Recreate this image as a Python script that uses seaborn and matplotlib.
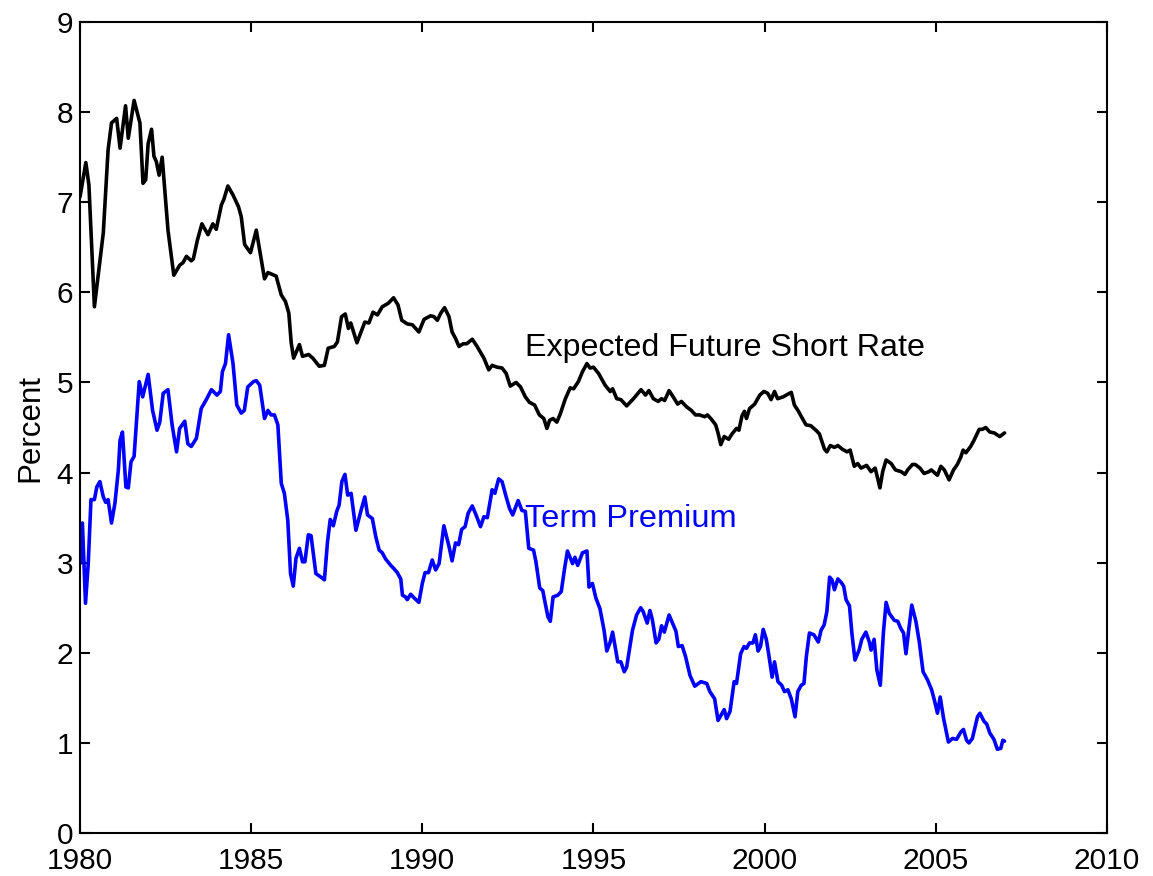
import numpy as np
import pandas as pd
import matplotlib
matplotlib.use("Agg")
from matplotlib import pyplot as plt
import seaborn as sns

# expected future short rate (year, percent)
short_years = [1980.00, 1980.17, 1980.26, 1980.42, 1980.68, 1980.82, 1980.92, 1981.07, 1981.17, 1981.33,
               1981.41, 1981.58, 1981.75, 1981.84, 1981.92, 1981.99, 1982.09, 1982.16, 1982.23, 1982.31,
               1982.40, 1982.57, 1982.74, 1982.91, 1983.01, 1983.11, 1983.25, 1983.31, 1983.43, 1983.56,
               1983.74, 1983.88, 1983.98, 1984.13, 1984.20, 1984.32, 1984.47, 1984.63, 1984.71, 1984.81,
               1984.98, 1985.15, 1985.39, 1985.49, 1985.73, 1985.88, 1986.00, 1986.10, 1986.17, 1986.24,
               1986.41, 1986.50, 1986.68, 1986.80, 1986.99, 1987.14, 1987.25, 1987.43, 1987.52, 1987.64,
               1987.75, 1987.84, 1987.91, 1988.09, 1988.18, 1988.32, 1988.44, 1988.56, 1988.69, 1988.83,
               1989.01, 1989.16, 1989.29, 1989.40, 1989.56, 1989.71, 1989.90, 1990.05, 1990.24, 1990.34,
               1990.44, 1990.54, 1990.65, 1990.78, 1990.87, 1990.97, 1991.07, 1991.20, 1991.30, 1991.46,
               1991.60, 1991.80, 1991.94, 1992.04, 1992.18, 1992.33, 1992.45, 1992.57, 1992.74, 1992.87,
               1993.01, 1993.13, 1993.28, 1993.42, 1993.55, 1993.64, 1993.72, 1993.82, 1993.93, 1994.03,
               1994.18, 1994.32, 1994.42, 1994.56, 1994.68, 1994.81, 1994.90, 1995.00, 1995.15, 1995.34,
               1995.49, 1995.56, 1995.68, 1995.80, 1995.97, 1996.17, 1996.39, 1996.52, 1996.62, 1996.75,
               1996.89, 1996.99, 1997.08, 1997.21, 1997.33, 1997.46, 1997.57, 1997.72, 1997.86, 1997.98,
               1998.10, 1998.25, 1998.33, 1998.45, 1998.57, 1998.64, 1998.72, 1998.82, 1998.95, 1999.05,
               1999.18, 1999.25, 1999.34, 1999.41, 1999.47, 1999.56, 1999.71, 1999.86, 1999.98, 2000.09,
               2000.19, 2000.29, 2000.38, 2000.54, 2000.68, 2000.78, 2000.87, 2000.99, 2001.09, 2001.21,
               2001.35, 2001.50, 2001.60, 2001.75, 2001.82, 2001.92, 2002.04, 2002.14, 2002.27, 2002.41,
               2002.50, 2002.62, 2002.72, 2002.82, 2002.98, 2003.11, 2003.23, 2003.37, 2003.45, 2003.55,
               2003.70, 2003.82, 2003.99, 2004.10, 2004.18, 2004.32, 2004.40, 2004.54, 2004.66, 2004.80,
               2004.87, 2005.05, 2005.15, 2005.25, 2005.39, 2005.52, 2005.63, 2005.73, 2005.80, 2005.88,
               2006.02, 2006.12, 2006.27, 2006.36, 2006.46, 2006.58, 2006.71, 2006.87, 2007.01]
short_rate = [7.06, 7.44, 7.19, 5.84, 6.66, 7.58, 7.88, 7.93, 7.60, 8.07,
              7.71, 8.13, 7.88, 7.21, 7.25, 7.65, 7.81, 7.51, 7.45, 7.30,
              7.50, 6.69, 6.19, 6.30, 6.33, 6.40, 6.35, 6.37, 6.58, 6.76,
              6.64, 6.76, 6.70, 6.97, 7.03, 7.18, 7.08, 6.95, 6.84, 6.53,
              6.44, 6.69, 6.15, 6.22, 6.18, 5.97, 5.90, 5.77, 5.44, 5.27,
              5.42, 5.29, 5.31, 5.27, 5.18, 5.19, 5.38, 5.40, 5.45, 5.73,
              5.76, 5.60, 5.66, 5.44, 5.53, 5.67, 5.66, 5.78, 5.75, 5.84,
              5.88, 5.94, 5.86, 5.69, 5.65, 5.64, 5.56, 5.70, 5.74, 5.73,
              5.69, 5.77, 5.83, 5.73, 5.56, 5.49, 5.40, 5.43, 5.43, 5.48,
              5.40, 5.27, 5.14, 5.19, 5.17, 5.16, 5.10, 4.96, 5.00, 4.95,
              4.84, 4.78, 4.75, 4.64, 4.60, 4.49, 4.58, 4.60, 4.56, 4.65,
              4.82, 4.94, 4.93, 5.01, 5.12, 5.21, 5.16, 5.17, 5.10, 4.97,
              4.90, 4.93, 4.82, 4.81, 4.74, 4.82, 4.92, 4.86, 4.91, 4.82,
              4.79, 4.82, 4.80, 4.91, 4.84, 4.76, 4.79, 4.73, 4.69, 4.64,
              4.64, 4.62, 4.64, 4.59, 4.53, 4.44, 4.31, 4.40, 4.37, 4.43,
              4.49, 4.47, 4.63, 4.68, 4.60, 4.71, 4.76, 4.86, 4.90, 4.88,
              4.81, 4.90, 4.82, 4.84, 4.87, 4.89, 4.75, 4.68, 4.61, 4.53,
              4.52, 4.47, 4.43, 4.26, 4.23, 4.30, 4.28, 4.30, 4.26, 4.23,
              4.25, 4.07, 4.10, 4.05, 4.08, 4.01, 4.05, 3.83, 4.01, 4.14,
              4.10, 4.03, 4.01, 3.98, 4.03, 4.09, 4.09, 4.05, 3.99, 4.01,
              4.03, 3.97, 4.07, 4.03, 3.92, 4.03, 4.09, 4.17, 4.25, 4.22,
              4.29, 4.36, 4.48, 4.48, 4.50, 4.45, 4.44, 4.40, 4.44]

# term premium
tp_years = [1980.00, 1980.07, 1980.16, 1980.24, 1980.32, 1980.42, 1980.49, 1980.58, 1980.68, 1980.75,
            1980.82, 1980.92, 1981.02, 1981.12, 1981.17, 1981.24, 1981.34, 1981.41, 1981.49, 1981.58,
            1981.73, 1981.83, 1981.99, 1982.12, 1982.25, 1982.33, 1982.43, 1982.57, 1982.69, 1982.82,
            1982.91, 1983.06, 1983.15, 1983.25, 1983.40, 1983.54, 1983.69, 1983.84, 1984.00, 1984.10,
            1984.16, 1984.25, 1984.34, 1984.47, 1984.58, 1984.71, 1984.80, 1984.90, 1985.07, 1985.15,
            1985.25, 1985.39, 1985.49, 1985.58, 1985.68, 1985.78, 1985.88, 1985.97, 1986.07, 1986.15,
            1986.23, 1986.31, 1986.41, 1986.50, 1986.57, 1986.67, 1986.75, 1986.89, 1987.04, 1987.14,
            1987.23, 1987.31, 1987.40, 1987.50, 1987.57, 1987.65, 1987.74, 1987.82, 1987.92, 1988.06,
            1988.21, 1988.32, 1988.40, 1988.54, 1988.64, 1988.74, 1988.83, 1988.93, 1989.08, 1989.18,
            1989.27, 1989.37, 1989.42, 1989.51, 1989.56, 1989.66, 1989.76, 1989.90, 1990.00, 1990.08,
            1990.18, 1990.29, 1990.39, 1990.49, 1990.63, 1990.78, 1990.87, 1990.97, 1991.06, 1991.15,
            1991.25, 1991.34, 1991.46, 1991.57, 1991.70, 1991.80, 1991.90, 1992.04, 1992.12, 1992.23,
            1992.33, 1992.45, 1992.55, 1992.64, 1992.80, 1992.91, 1993.01, 1993.11, 1993.25, 1993.32,
            1993.43, 1993.52, 1993.57, 1993.67, 1993.74, 1993.82, 1993.96, 1994.06, 1994.15, 1994.24,
            1994.39, 1994.46, 1994.54, 1994.68, 1994.81, 1994.87, 1994.97, 1995.07, 1995.19, 1995.31,
            1995.39, 1995.49, 1995.56, 1995.71, 1995.80, 1995.90, 1995.97, 1996.14, 1996.26, 1996.38,
            1996.45, 1996.57, 1996.65, 1996.72, 1996.83, 1996.91, 1996.99, 1997.07, 1997.21, 1997.31,
            1997.41, 1997.48, 1997.59, 1997.69, 1997.82, 1997.96, 1998.14, 1998.31, 1998.40, 1998.54,
            1998.64, 1998.73, 1998.82, 1998.89, 1998.99, 1999.11, 1999.18, 1999.30, 1999.40, 1999.47,
            1999.56, 1999.66, 1999.73, 1999.81, 1999.88, 1999.96, 2000.05, 2000.13, 2000.22, 2000.29,
            2000.39, 2000.50, 2000.58, 2000.68, 2000.78, 2000.89, 2000.97, 2001.07, 2001.15, 2001.22,
            2001.31, 2001.44, 2001.57, 2001.65, 2001.74, 2001.82, 2001.90, 2001.97, 2002.04, 2002.14,
            2002.24, 2002.31, 2002.38, 2002.48, 2002.55, 2002.64, 2002.76, 2002.84, 2002.96, 2003.06,
            2003.11, 2003.20, 2003.28, 2003.38, 2003.47, 2003.55, 2003.64, 2003.79, 2003.89, 2003.98,
            2004.06, 2004.13, 2004.21, 2004.30, 2004.42, 2004.52, 2004.63, 2004.76, 2004.88, 2004.97,
            2005.05, 2005.13, 2005.23, 2005.37, 2005.49, 2005.61, 2005.73, 2005.81, 2005.90, 2005.97,
            2006.07, 2006.22, 2006.29, 2006.41, 2006.49, 2006.58, 2006.70, 2006.80, 2006.90, 2006.96,
            2007.01]
term_premium = [2.99, 3.44, 2.55, 2.99, 3.70, 3.70, 3.84, 3.90, 3.73, 3.67,
                3.70, 3.44, 3.66, 4.03, 4.36, 4.45, 3.84, 3.83, 4.12, 4.18,
                5.01, 4.84, 5.09, 4.69, 4.47, 4.56, 4.88, 4.92, 4.53, 4.23,
                4.49, 4.57, 4.32, 4.29, 4.38, 4.71, 4.81, 4.92, 4.86, 4.90,
                5.12, 5.21, 5.53, 5.21, 4.75, 4.66, 4.69, 4.95, 5.01, 5.02,
                4.97, 4.60, 4.69, 4.64, 4.64, 4.53, 3.88, 3.77, 3.47, 2.88,
                2.74, 3.05, 3.16, 3.01, 3.01, 3.31, 3.30, 2.88, 2.84, 2.81,
                3.23, 3.48, 3.41, 3.57, 3.64, 3.90, 3.98, 3.75, 3.77, 3.36,
                3.58, 3.73, 3.53, 3.49, 3.29, 3.14, 3.11, 3.04, 2.97, 2.93,
                2.89, 2.82, 2.64, 2.62, 2.59, 2.65, 2.61, 2.56, 2.77, 2.89,
                2.89, 3.03, 2.92, 2.99, 3.41, 3.18, 3.02, 3.22, 3.20, 3.37,
                3.40, 3.55, 3.63, 3.53, 3.40, 3.51, 3.50, 3.81, 3.77, 3.93,
                3.90, 3.73, 3.60, 3.53, 3.69, 3.58, 3.57, 3.16, 3.14, 3.01,
                2.72, 2.69, 2.59, 2.40, 2.35, 2.62, 2.64, 2.68, 2.92, 3.13,
                2.99, 3.06, 2.97, 3.11, 3.13, 2.73, 2.77, 2.61, 2.49, 2.25,
                2.02, 2.12, 2.23, 1.90, 1.90, 1.79, 1.84, 2.25, 2.42, 2.50,
                2.46, 2.33, 2.47, 2.37, 2.11, 2.15, 2.30, 2.23, 2.42, 2.33,
                2.24, 2.07, 2.08, 1.96, 1.75, 1.63, 1.68, 1.66, 1.57, 1.49,
                1.25, 1.31, 1.37, 1.27, 1.35, 1.68, 1.66, 1.99, 2.07, 2.05,
                2.11, 2.11, 2.20, 2.02, 2.07, 2.26, 2.15, 1.96, 1.73, 1.90,
                1.68, 1.64, 1.57, 1.59, 1.49, 1.29, 1.57, 1.64, 1.66, 1.96,
                2.22, 2.20, 2.12, 2.25, 2.31, 2.46, 2.84, 2.81, 2.70, 2.82,
                2.78, 2.74, 2.59, 2.52, 2.22, 1.92, 2.03, 2.15, 2.23, 2.12,
                2.03, 2.15, 1.81, 1.64, 2.22, 2.56, 2.44, 2.36, 2.35, 2.27,
                2.22, 1.99, 2.25, 2.53, 2.35, 2.12, 1.79, 1.70, 1.59, 1.46,
                1.33, 1.51, 1.27, 1.01, 1.05, 1.04, 1.12, 1.15, 1.03, 1.00,
                1.05, 1.29, 1.33, 1.24, 1.21, 1.11, 1.04, 0.93, 0.94, 1.03,
                1.02]

x_ticks = [1980, 1985, 1990, 1995, 2000, 2005, 2010]
y_ticks = list(range(0, 10))

sns.set_theme(style="ticks")
plt.rcParams['font.family'] = ['Liberation Sans', 'DejaVu Sans']

short_df = pd.DataFrame({'year': short_years, 'rate': short_rate})
tp_df = pd.DataFrame({'year': tp_years, 'rate': term_premium})

fig = plt.figure(figsize=(11.53, 8.76), dpi=100)
ax = fig.add_axes([0.0694, 0.049, 0.8906, 0.9259])

sns.lineplot(data=short_df, x='year', y='rate', ax=ax, color='black', linewidth=2.6)
sns.lineplot(data=tp_df, x='year', y='rate', ax=ax, color='#0000ff', linewidth=2.6)

ax.text(1993.0, 5.38, 'Expected Future Short Rate', fontsize=23.2, color='black', va='center', ha='left')
ax.text(1993.0, 3.48, 'Term Premium', fontsize=23.4, color='#0000ff', va='center', ha='left')

ax.set_xlim(1980, 2010)
ax.set_ylim(0, 9)
ax.set_xticks(x_ticks)
ax.set_yticks(y_ticks)
ax.set_xlabel('')
ax.set_ylabel('Percent', fontsize=22.5, color='black', labelpad=8)
ax.tick_params(direction='in', length=7, width=1.5, top=True, right=True,
               labelsize=21.5, labelcolor='black', color='black')
ax.tick_params(axis='x', pad=10)
ax.tick_params(axis='y', pad=5)
for s in ax.spines.values():
    s.set_visible(True)
    s.set_linewidth(1.5)
    s.set_color('black')

fig.savefig('out.png', dpi=100)
